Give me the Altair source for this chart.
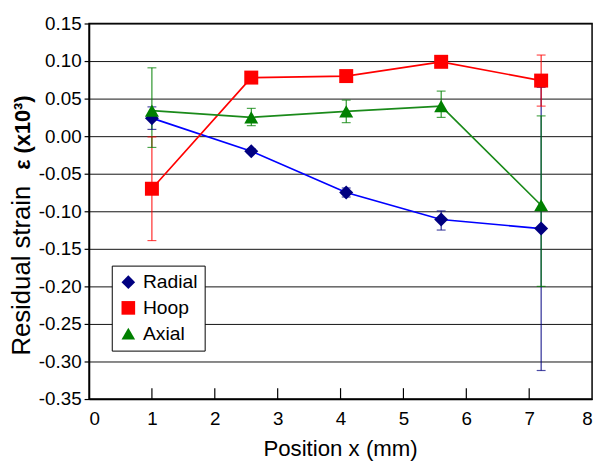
import altair as alt
import pandas as pd

positions = [1.0, 2.58, 4.09, 5.60, 7.19]
series_names = ["Radial", "Hoop", "Axial"]

radial = [0.024, -0.020, -0.075, -0.111, -0.123]
radial_lo = [0.009, -0.023, -0.081, -0.125, -0.312]
radial_hi = [0.039, -0.017, -0.069, -0.0995, 0.065]

hoop = [-0.070, 0.078, 0.080, 0.099, 0.074]
hoop_lo = [-0.139, 0.076, 0.078, 0.097, 0.040]
hoop_hi = [-0.001, 0.080, 0.082, 0.101, 0.108]

axial = [0.034, 0.025, 0.033, 0.040, -0.092]
axial_lo = [-0.015, 0.014, 0.018, 0.025, -0.200]
axial_hi = [0.091, 0.037, 0.048, 0.060, 0.027]

x_ticks = [0, 1, 2, 3, 4, 5, 6, 7, 8]
y_ticks = [0.15, 0.10, 0.05, 0.0, -0.05, -0.10, -0.15, -0.20, -0.25, -0.30, -0.35]

marker_colors = ["#000080", "#ff0000", "#008000"]
line_colors = ["#0000ff", "#ff0000", "#1a8a1a"]
shapes = ["diamond", "square", "triangle-up"]

rows = []
for name, vals, lo, hi in [("Radial", radial, radial_lo, radial_hi),
                           ("Hoop", hoop, hoop_lo, hoop_hi),
                           ("Axial", axial, axial_lo, axial_hi)]:
    for xv, v, l, h in zip(positions, vals, lo, hi):
        rows.append({"series": name, "x": xv, "y": v, "lo": l, "hi": h})
df = pd.DataFrame(rows)

FONT = "Liberation Sans"
xscale = alt.Scale(domain=[0, 8], nice=False, zero=False)
yscale = alt.Scale(domain=[-0.35, 0.15], nice=False, zero=False)
color_scale = alt.Scale(domain=series_names, range=marker_colors)

base = alt.Chart(df)

xenc = alt.X("x:Q", scale=xscale,
             axis=alt.Axis(values=x_ticks, tickCount=20, ticks=False, grid=False, title=None,
                           labelPadding=11, format="d", labelOverlap=False))
yenc = alt.Y("y:Q", scale=yscale,
             axis=alt.Axis(values=y_ticks, tickCount=30, tickSize=5, grid=True,
                           title=None, labelPadding=3, labelOverlap=False,
                           labelExpr="replace(format(datum.value, '.2f'), '\u2212', '-')"))

line_layers = []
for name, col in zip(series_names, line_colors):
    line_layers.append(
        base.transform_filter(alt.datum.series == name).mark_line(
            strokeWidth=1.7, color=col
        ).encode(x=xenc, y=yenc)
    )

bars = base.mark_rule(strokeWidth=1).encode(
    x=alt.X("x:Q", scale=xscale),
    y=alt.Y("lo:Q", scale=yscale),
    y2="hi:Q",
    color=alt.Color("series:N", scale=color_scale),
)
cap_lo = base.mark_tick(orient="horizontal", size=9, thickness=1.2).encode(
    x=alt.X("x:Q", scale=xscale),
    y=alt.Y("lo:Q", scale=yscale),
    color=alt.Color("series:N", scale=color_scale),
)
cap_hi = base.mark_tick(orient="horizontal", size=9, thickness=1.2).encode(
    x=alt.X("x:Q", scale=xscale),
    y=alt.Y("hi:Q", scale=yscale),
    color=alt.Color("series:N", scale=color_scale),
)

legend = alt.Legend(title=None, orient="none", legendX=23, legendY=245)
points = base.mark_point(filled=True, size=200, opacity=1, strokeWidth=0).encode(
    x=alt.X("x:Q", scale=xscale),
    y=alt.Y("y:Q", scale=yscale),
    color=alt.Color("series:N", scale=color_scale, legend=legend),
    shape=alt.Shape("series:N", scale=alt.Scale(domain=series_names, range=shapes), legend=legend),
)

tick_df = pd.DataFrame({"t": x_ticks[1:-1]})
inner_ticks = alt.Chart(tick_df).mark_rule(color="black", strokeWidth=1.2).encode(
    x=alt.X("t:Q", scale=xscale),
    y=alt.value(380),
    y2=alt.value(369),
)

ytitle1 = alt.Chart(pd.DataFrame({"t": ["Residual strain"]})).mark_text(
    angle=270, align="left", baseline="alphabetic", fontSize=26, font=FONT, color="black"
).encode(x=alt.value(-60), y=alt.value(336), text="t:N")

ytitle2 = alt.Chart(pd.DataFrame({"t": ["\u03b5 (x10\u00b3)"]})).mark_text(
    angle=270, align="left", baseline="alphabetic", fontSize=22, fontWeight="bold",
    font=FONT, color="black"
).encode(x=alt.value(-60), y=alt.value(148), text="t:N")

xtitle = alt.Chart(pd.DataFrame({"t": ["Position x (mm)"]})).mark_text(
    align="center", baseline="alphabetic", fontSize=22.5, font=FONT, color="black"
).encode(x=alt.value(254.5), y=alt.value(438), text="t:N")

chart = alt.layer(
    *line_layers, bars, cap_lo, cap_hi, points, inner_ticks, ytitle1, ytitle2, xtitle
).properties(
    width=509, height=380,
    autosize=alt.AutoSizeParams(type="none"),
    padding={"left": 82, "top": 13, "right": 6, "bottom": 60},
).configure_view(
    stroke="black", strokeWidth=1.5
).configure_axis(
    labelFont=FONT, labelFontSize=19, labelColor="black",
    domainColor="black", domainWidth=1.5,
    tickColor="black", tickWidth=1.2,
    gridColor="#111111", gridWidth=1, gridOpacity=1,
).configure_legend(
    strokeColor="black", fillColor="white", padding=7,
    labelFont=FONT, labelFontSize=19.5, labelColor="black",
    symbolSize=190, symbolStrokeWidth=0, symbolOpacity=1, rowPadding=5, labelOffset=5,
    cornerRadius=0,
)

chart.save("out.html", embed_options={"renderer": "svg", "actions": False})
